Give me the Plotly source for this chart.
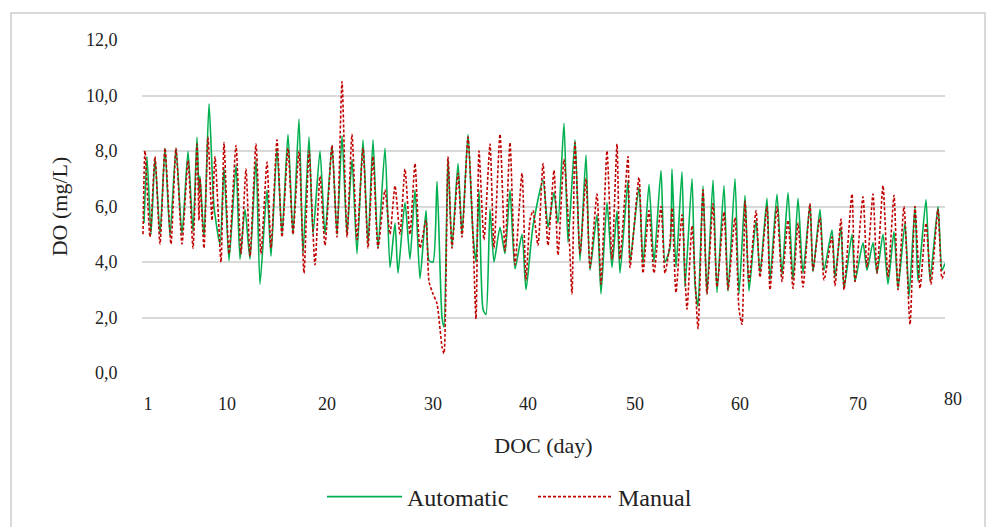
import plotly.graph_objects as go

# ---- data ----
# x = sample number along the DOC axis (label "1" at sample 0)
auto_t = [-4,-1,3,7,12,17,22,28,34,40,45,49,51,52,56,61,66,72,76,81,88,92,97,102,108,112,119,123,129,134,140,145,151,155,161,165,172,177,184,189,194,199,204,209,215,220,225,230,237,242,247,250,257,262,267,272,278,281,285,289,294,296,300,304,310,314,320,325,328,331,335,338,342,346,352,357,362,367,374,378,385,395,400,406,410,416,420,427,432,438,442,449,453,459,464,469,472,480,482,491,495,501,506,513,517,522,524,528,534,537,544,547,550,555,559,565,569,576,580,587,591,597,601,608,612,619,622,629,634,640,645,650,655,662,665,672,676,684,687,693,696,704,707,715,719,725,729,735,740,746,750,757,761,767,770,778,782,790,794,797]
auto_do = [5.4,7.8,5.0,7.75,5.0,8.1,4.95,8.1,5.0,8.0,5.1,8.5,6.5,7.1,4.9,9.7,6.0,4.65,7.4,4.05,7.5,4.1,5.9,4.1,7.7,3.2,6.6,4.2,8.1,5.0,8.6,5.0,9.15,4.3,8.5,5.0,8.0,5.0,8.2,5.0,8.55,5.0,7.7,4.3,8.4,4.65,8.4,4.5,8.1,3.8,5.4,3.6,6.15,4.1,6.6,3.4,5.85,4.05,4.0,6.9,2.0,1.65,7.7,4.55,7.55,5.0,8.6,5.0,4.0,6.6,2.3,2.1,5.9,4.0,5.25,4.3,6.6,3.75,5.0,3.0,5.3,6.95,5.25,6.5,5.4,9.0,4.7,8.4,4.05,7.85,3.7,5.7,2.85,6.15,3.8,5.85,3.6,6.95,4.0,6.7,3.95,6.8,4.0,7.3,4.0,4.5,7.35,3.8,7.25,3.1,7.0,3.2,2.4,6.75,2.85,6.95,2.9,6.75,2.95,7.0,2.85,6.4,2.95,5.5,3.6,6.3,3.35,6.45,3.55,6.5,3.35,6.3,3.6,6.1,3.65,5.9,3.7,5.15,3.45,5.25,3.05,5.0,3.3,4.7,3.7,4.7,3.6,5.0,3.2,5.1,3.05,5.4,2.75,6.0,3.3,6.25,3.35,6.0,3.7,3.95]

man_t = [-5,-3,2,7,12,17,23,28,34,40,45,49,51,52,56,60,64,67,73,76,81,88,93,98,102,108,113,119,123,129,134,140,145,151,156,161,167,172,177,184,189,194,199,204,209,215,220,225,230,237,242,247,252,257,262,267,272,278,281,285,289,294,296,300,304,310,314,320,325,328,331,336,342,346,352,357,362,367,374,378,382,385,390,395,400,406,410,416,421,424,427,432,438,442,449,453,459,464,469,472,480,482,491,495,501,506,513,517,522,524,528,534,539,544,550,555,559,565,569,576,580,587,591,594,597,601,608,612,619,622,629,634,640,645,650,655,662,665,672,676,684,687,693,696,704,707,715,719,725,729,735,740,746,750,756,762,767,772,778,783,790,794,797]
man_do = [5.0,8.0,4.9,7.8,4.65,8.1,4.65,8.1,4.65,7.65,4.5,8.25,5.5,7.0,4.5,8.5,5.5,7.8,4.0,8.3,4.3,8.2,4.3,7.35,4.2,8.25,4.3,7.6,4.5,8.4,4.9,8.1,5.0,8.0,3.6,8.0,3.9,7.1,4.6,8.2,4.9,10.5,4.9,8.6,4.8,8.1,4.5,7.8,4.5,6.6,5.0,6.75,5.0,7.35,5.0,7.55,4.5,5.5,3.3,2.85,2.5,0.95,0.7,7.8,4.5,7.2,4.9,8.5,4.9,1.95,8.0,4.8,8.25,4.5,8.6,4.4,8.3,3.9,7.2,3.35,5.5,5.85,4.6,7.55,4.6,7.3,4.25,7.7,5.0,2.85,8.3,4.3,7.0,3.8,6.45,3.2,8.0,4.1,8.25,4.1,7.8,3.8,7.05,3.6,5.85,3.6,6.0,3.6,4.7,5.95,2.9,5.7,2.3,5.3,1.6,6.6,2.85,6.1,3.1,5.8,3.0,5.6,2.3,1.75,6.2,3.3,5.85,3.45,6.0,3.0,6.0,3.3,5.5,3.05,5.4,3.1,6.1,3.7,5.6,3.35,4.9,3.15,5.55,3.0,6.45,3.3,6.35,3.8,6.45,3.6,6.75,3.45,6.4,3.0,6.0,1.75,6.0,3.05,5.4,3.2,5.9,3.4,3.7]

tick_samples = [0, 79, 179, 285, 380, 487, 592, 710]
tick_labels = ["1", "10", "20", "30", "40", "50", "60", "70"]
last_label = "80"
last_label_sample = 805

y_ticks = [0, 2, 4, 6, 8, 10, 12]

# ---- layout constants ----
W, H = 990, 527
ML, MR, MT, MB = 142, 45, 40, 154
X_RANGE = [-6, 797]
FONT = "Liberation Serif, Times New Roman, serif"
TXT = "#222222"
GRID = "#D9D9D9"

fig = go.Figure()
fig.add_trace(go.Scatter(x=auto_t, y=auto_do, mode="lines", name="Automatic",
                         line=dict(color="#00B050", width=1.6, shape="spline", smoothing=0.6)))
fig.add_trace(go.Scatter(x=man_t, y=man_do, mode="lines", name="Manual",
                         line=dict(color="#C00000", width=1.6, dash="3px,2px",
                                   shape="spline", smoothing=0.6)))

plot_w = W - ML - MR
plot_h = H - MT - MB
span = X_RANGE[1] - X_RANGE[0]

fig.update_layout(
    width=W, height=H,
    margin=dict(l=ML, r=MR, t=MT, b=MB, autoexpand=False),
    paper_bgcolor="white", plot_bgcolor="white",
    separators=",.",
    font=dict(family=FONT, size=18, color=TXT),
    showlegend=True,
    legend=dict(orientation="h", x=(322 - ML) / plot_w, xanchor="left",
                y=-(497 - (MT + plot_h)) / plot_h, yanchor="middle",
                font=dict(size=24), itemwidth=75, entrywidth=121, entrywidthmode="pixels",
                traceorder="normal"),
    xaxis=dict(range=X_RANGE, tickmode="array", tickvals=tick_samples, ticktext=tick_labels,
               showgrid=False, zeroline=False, showline=False, automargin=False,
               ticks="outside", ticklen=14, tickcolor="rgba(0,0,0,0)",
               title=dict(text="DOC (day)", standoff=25, font=dict(size=22))),
    yaxis=dict(range=[0, 12], tickmode="array", tickvals=y_ticks, tickformat=".1f",
               showgrid=True, gridcolor=GRID, gridwidth=1.5, zeroline=False, showline=False,
               automargin=False,
               ticks="outside", ticklen=20, tickcolor="rgba(0,0,0,0)",
               title=dict(text="DO (mg/L)", standoff=12, font=dict(size=22))),
)

# label "80" sits just beyond the plotted range, as in the reference
fig.add_annotation(text=last_label, xref="paper", yref="paper",
                   x=(last_label_sample - X_RANGE[0]) / span, y=0,
                   yshift=-26, showarrow=False, xanchor="center", yanchor="middle",
                   font=dict(size=18, family=FONT, color=TXT))

# chart border
fig.add_shape(type="rect", xref="paper", yref="paper",
              x0=(11 - ML) / plot_w, x1=(985 - ML) / plot_w,
              y0=-(540 - (MT + plot_h)) / plot_h, y1=((MT + plot_h) - 13) / plot_h,
              line=dict(color=GRID, width=2), layer="below")

fig.write_html("out.html", config={"displayModeBar": False},
               post_script="document.body.style.margin='0';")
